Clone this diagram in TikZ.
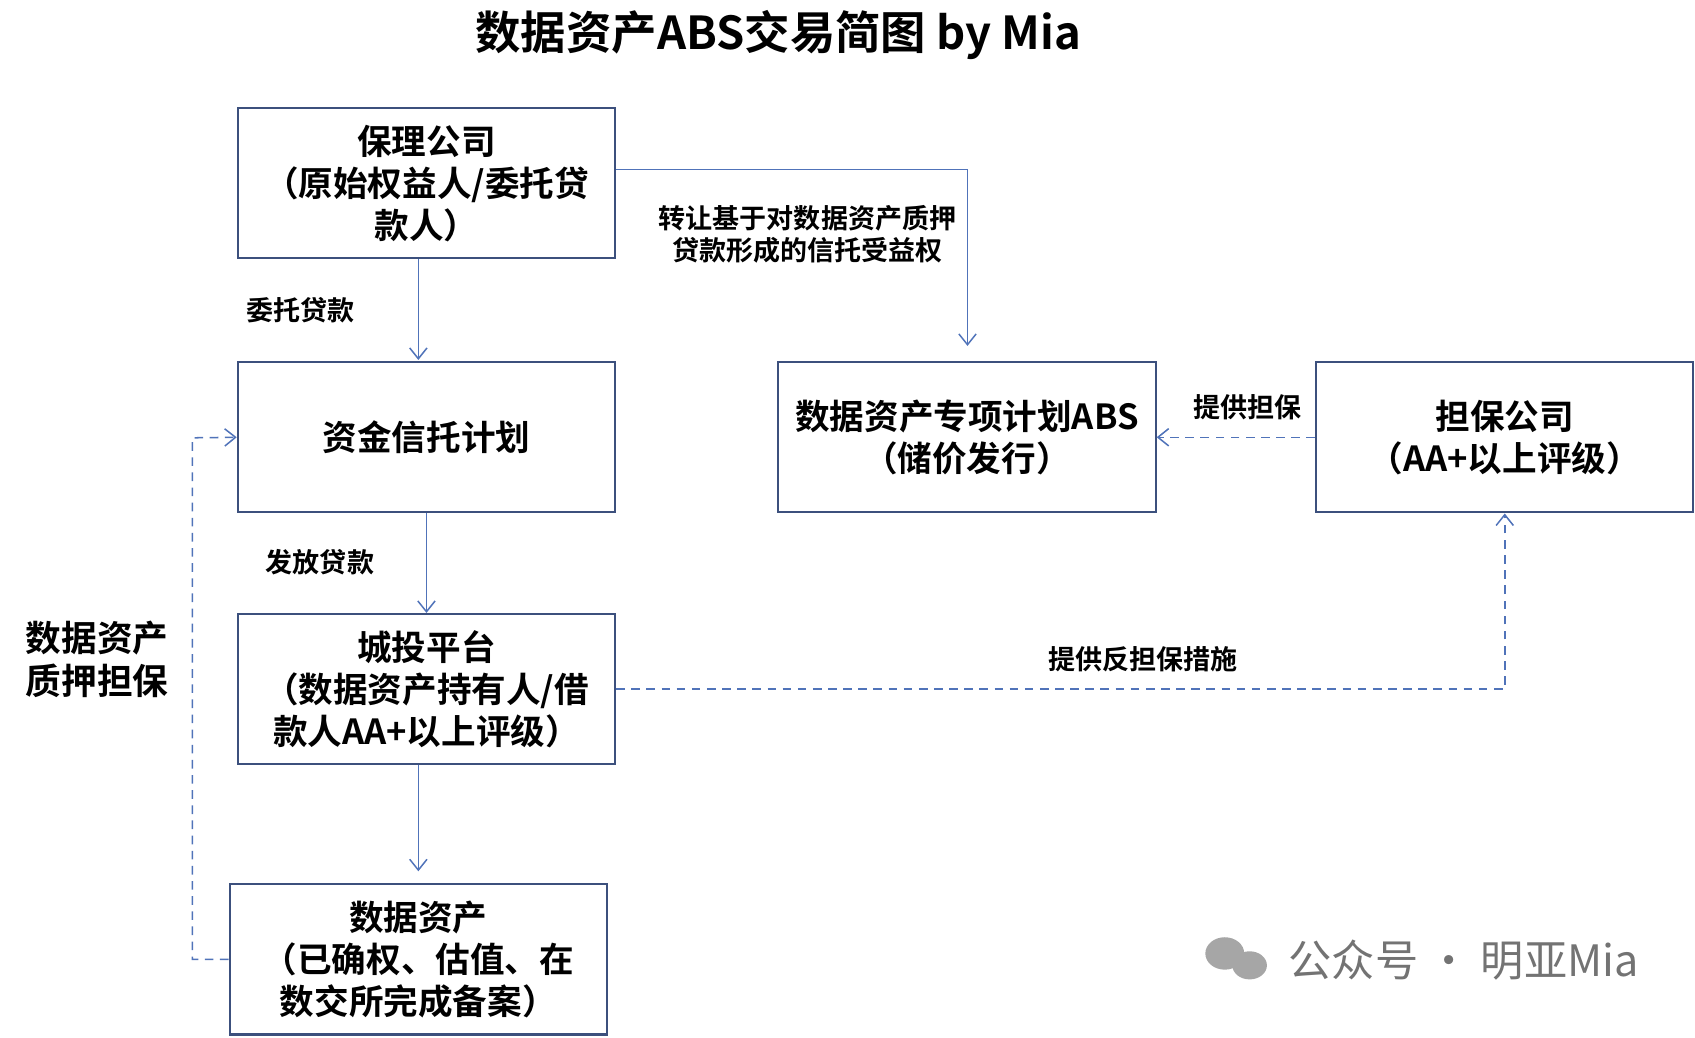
\documentclass[tikz,border=0pt]{standalone}
\usepackage{fontspec}
\setmainfont{Noto Sans CJK SC}[BoldFont={* Bold}]
\usetikzlibrary{arrows.meta}
\definecolor{bx}{RGB}{60,80,125}
\definecolor{ar}{RGB}{80,115,185}
\begin{document}
\begin{tikzpicture}[x=0.5pt,y=-0.5pt,
 box/.style={draw=bx,line width=1pt,minimum width=174.5pt,minimum height=69.5pt,align=center,font=\fontsize{16}{19.5}\selectfont\bfseries,inner sep=1pt},
 lab/.style={font=\fontsize{12.5}{15}\selectfont\bfseries,align=center},
 arr/.style={draw=ar,line width=0.7pt,-{Straight Barb[length=5pt,width=8pt]}},
 da/.style={arr,dashed,dash pattern=on 4pt off 3pt}]
\useasboundingbox (0,0) rectangle (1568,960);
\node[font=\fontsize{21}{24}\selectfont\bfseries] (t) at (720,32) {数据资产ABS交易简图 by Mia};
\node[box] (b1) at (394.5,169.5) {保理公司\\（原始权益人/委托贷\\款人）};
\node[box] (b2) at (394.5,404.5) {资金信托计划};
\node[box] (b3) at (394.5,637.5) {城投平台\\（数据资产持有人/借\\款人AA+以上评级）};
\node[box] (b4) at (387,887.5) {数据资产\\（已确权、估值、在\\数交所完成备案）};
\node[box] (b5) at (894.5,404.5) {数据资产专项计划ABS\\（储价发行）};
\node[box] (b6) at (1392,404.5) {担保公司\\（AA+以上评级）};
\coordinate (c1) at (895,320);
\draw[arr] (b1.south -| 387,0) -- (387,333);
\draw[arr] (b1.east |- 0,157) -| (c1);
\draw[arr] (b2.south) -- (b3.north);
\draw[arr] (b3.south -| 387,0) -- (387,806);
\draw[da] (b6.west) -- (b5.east);
\draw[da] (b3.east) -| (b6.south);
\draw[da] (b4.west) -| (178,405) -- (b2.west);
\node[lab] (l1) at (278,287) {委托贷款};
\node[lab] (l2) at (747,217) {转让基于对数据资产质押\\贷款形成的信托受益权};
\node[lab] (l3) at (296,520) {发放贷款};
\node[lab] (l4) at (1154,377) {提供担保};
\node[lab] (l5) at (1057,610) {提供反担保措施};
\node[font=\fontsize{16.5}{20}\selectfont\bfseries,align=center] (l6) at (90,610) {数据资产\\质押担保};
\fill[gray!70] (1133,882) ellipse (18 and 15);
\fill[gray!70] (1156,893) ellipse (16 and 13);
\node[text=gray!90!black,font=\fontsize{20}{24}\selectfont,anchor=west] (w) at (1185,888) {公众号 · 明亚Mia};
\end{tikzpicture}
\end{document}
